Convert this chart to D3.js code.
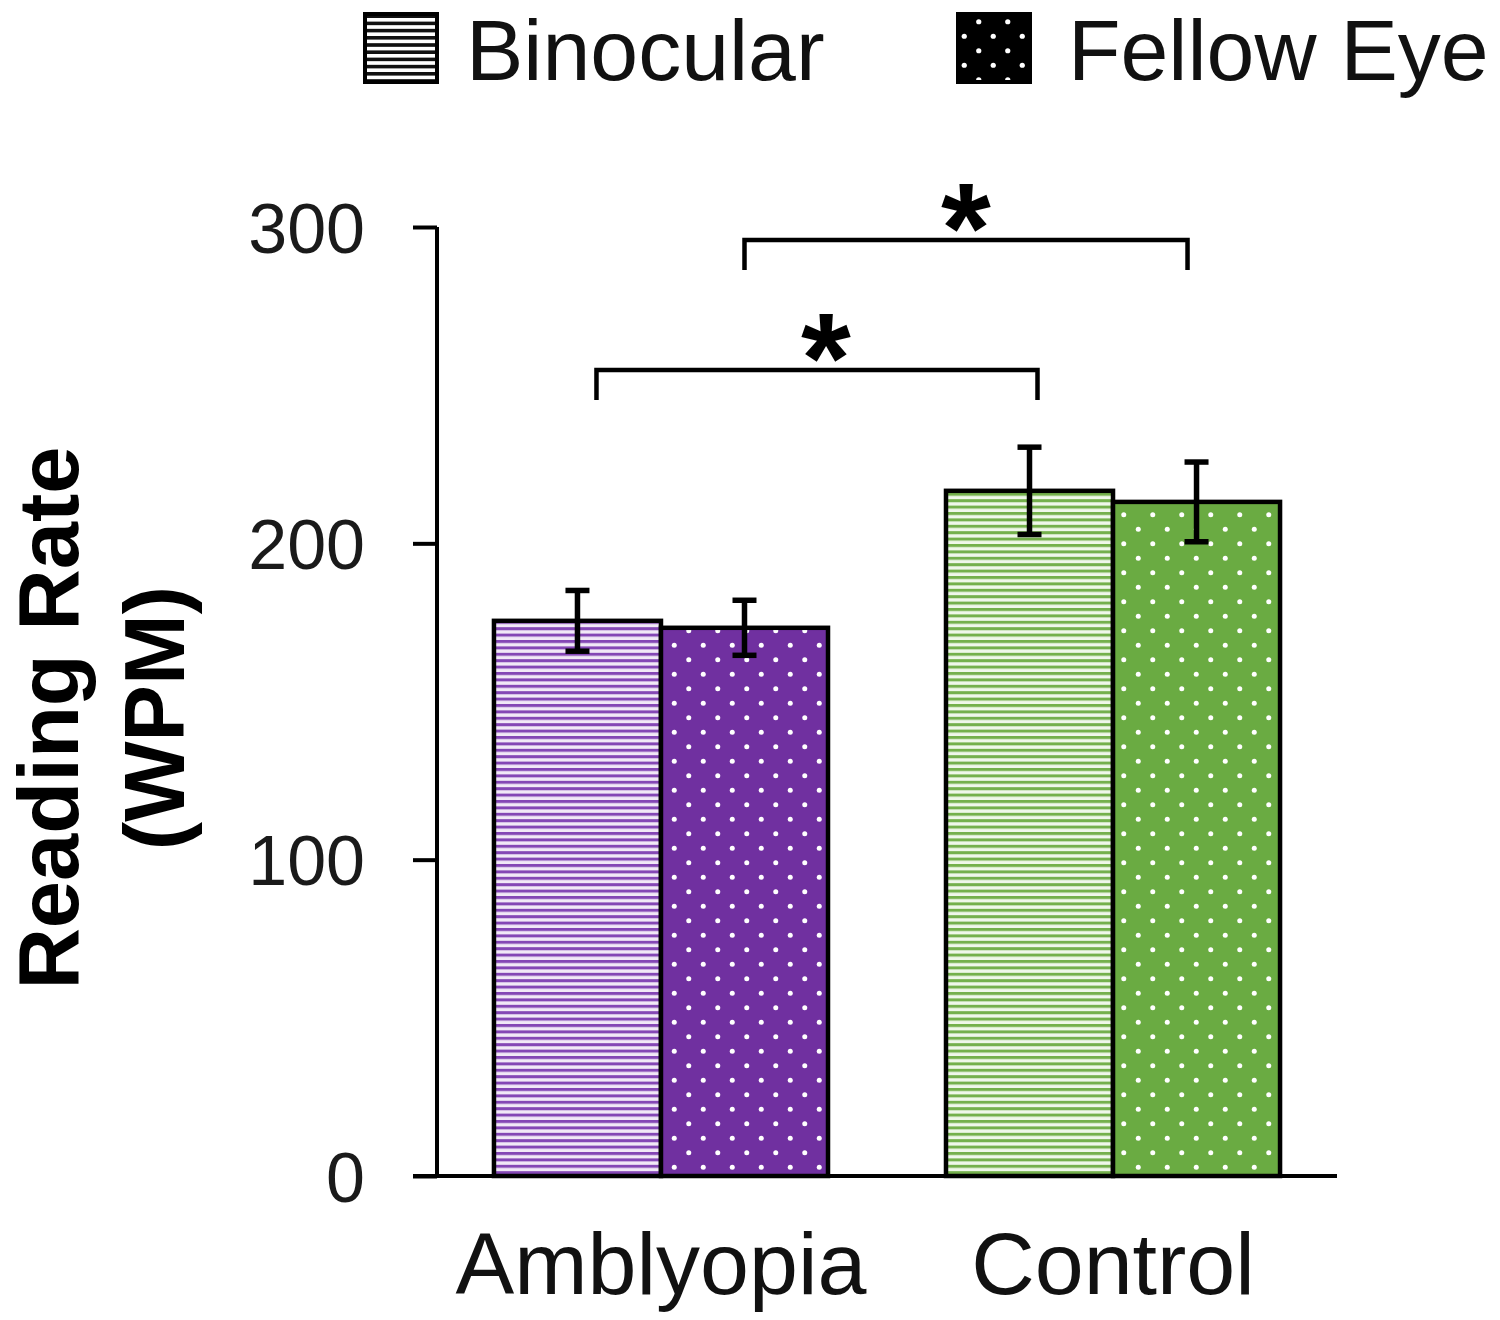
<!DOCTYPE html>
<html>
<head>
<meta charset="utf-8">
<script src="https://cdn.jsdelivr.net/npm/d3@7"></script>
<style>
  html, body { margin: 0; padding: 0; background: #fff; }
  svg { display: block; font-family: "Liberation Sans", Arial, sans-serif; }
</style>
</head>
<body>
<svg id="chart" width="1500" height="1320"></svg>
<script>
// ---- data ----
const groups = ["Amblyopia", "Control"];
const seriesNames = ["Binocular", "Fellow Eye"];
const binocularMeans = [175.5, 216.6];
const binocularErrors = [9.6, 13.8];
const fellowMeans = [173.3, 213.1];
const fellowErrors = [8.7, 12.6];
const yTicks = [0, 100, 200, 300];
const yTitleLines = ["Reading Rate", "(WPM)"];
// significance brackets: [group, series] -> [group, series], level in WPM
const bracketFrom = [[0, 0], [0, 1]];
const bracketTo = [[1, 0], [1, 1]];
const bracketLevels = [254.8, 295.9];
const bracketLabels = ["*", "*"];

const svg = d3.select("#chart");
const defs = svg.append("defs");

// patterns
function stripePattern(id, color, bg, period, lw) {
  const p = defs.append("pattern").attr("id", id)
    .attr("patternUnits", "userSpaceOnUse").attr("width", 20).attr("height", period);
  p.append("rect").attr("width", 20).attr("height", period).attr("fill", bg);
  p.append("rect").attr("y", 0).attr("width", 20).attr("height", lw).attr("fill", color);
}
function dotPattern(id, color, dotColor, size, r) {
  const p = defs.append("pattern").attr("id", id)
    .attr("patternUnits", "userSpaceOnUse").attr("width", size).attr("height", size);
  p.append("rect").attr("width", size).attr("height", size).attr("fill", color);
  p.append("circle").attr("cx", size * 0.25).attr("cy", size * 0.25).attr("r", r).attr("fill", dotColor);
  p.append("circle").attr("cx", size * 0.75).attr("cy", size * 0.75).attr("r", r).attr("fill", dotColor);
}
stripePattern("stripe0", "#8447b5", "#f1e9f7", 6.4, 3.0);
stripePattern("stripe1", "#74b04c", "#eff7ea", 6.4, 3.0);
dotPattern("dot0", "#7030a0", "#ffffff", 29, 2.5);
dotPattern("dot1", "#6aab42", "#ffffff", 29, 2.5);
stripePattern("stripeL", "#111", "#ffffff", 7.2, 3.6);
dotPattern("dotL", "#000", "#ffffff", 29, 2.6);

// scales
const x0 = d3.scaleBand().domain(groups).range([437, 1337]).paddingInner(0.261).paddingOuter(0.126);
const x1 = d3.scaleBand().domain(seriesNames).range([0, x0.bandwidth()]);
const y = d3.scaleLinear().domain([0, 300]).range([1176, 227]);

// y axis
const yAxis = d3.axisLeft(y).tickValues(yTicks).tickSize(24).tickPadding(48).tickSizeOuter(0);
const gy = svg.append("g").attr("transform", "translate(437,0)").call(yAxis);
gy.select(".domain").attr("stroke", "#000").attr("stroke-width", 4).attr("d", `M0,${y(300)}V${y(0)}`);
gy.selectAll(".tick line").attr("stroke", "#000").attr("stroke-width", 4).attr("x1", 0);
gy.selectAll(".tick text").attr("font-size", 70).attr("fill", "#1a1a1a")
  .attr("font-family", "Liberation Sans, Arial, sans-serif").attr("dy", "0.36em");

// bars
const data = [];
groups.forEach((g, gi) => {
  data.push({ g, gi, s: seriesNames[0], si: 0, v: binocularMeans[gi], e: binocularErrors[gi] });
  data.push({ g, gi, s: seriesNames[1], si: 1, v: fellowMeans[gi], e: fellowErrors[gi] });
});
const bars = svg.append("g");
bars.selectAll("rect").data(data).join("rect")
  .attr("x", d => x0(d.g) + x1(d.s))
  .attr("y", d => y(d.v))
  .attr("width", x1.bandwidth())
  .attr("height", d => y(0) - y(d.v))
  .attr("fill", d => d.si === 0 ? `url(#stripe${d.gi})` : `url(#dot${d.gi})`)
  .attr("stroke", "#000").attr("stroke-width", 4.5);

// x axis line
const xAxis = d3.axisBottom(x0).tickSize(0).tickPadding(56);
const gx = svg.append("g").attr("transform", `translate(0,${y(0)})`).call(xAxis);
gx.select(".domain").attr("stroke", "#000").attr("stroke-width", 4).attr("d", "M413,0H1337");
gx.selectAll(".tick text").attr("font-size", 88).attr("fill", "#111")
  .attr("font-family", "Liberation Sans, Arial, sans-serif");

// error bars
const cx = d => x0(d.g) + x1(d.s) + x1.bandwidth() / 2;
const eb = svg.append("g").attr("stroke", "#000").attr("stroke-width", 5.5);
data.forEach(d => {
  const c = cx(d);
  eb.append("line").attr("x1", c).attr("x2", c).attr("y1", y(d.v + d.e)).attr("y2", y(d.v - d.e));
  eb.append("line").attr("x1", c - 12).attr("x2", c + 12).attr("y1", y(d.v + d.e)).attr("y2", y(d.v + d.e));
  eb.append("line").attr("x1", c - 12).attr("x2", c + 12).attr("y1", y(d.v - d.e)).attr("y2", y(d.v - d.e));
});

// significance brackets
const bracketInset = [[19, 8], [0, -9]];
const bg = svg.append("g");
bracketLevels.forEach((lvl, i) => {
  const a = data.find(d => d.gi === bracketFrom[i][0] && d.si === bracketFrom[i][1]);
  const b = data.find(d => d.gi === bracketTo[i][0] && d.si === bracketTo[i][1]);
  const xa = cx(a) + bracketInset[i][0], xb = cx(b) + bracketInset[i][1];
  const yl = y(lvl);
  bg.append("path").attr("d", `M${xa},${yl + 30}V${yl}H${xb}V${yl + 30}`)
    .attr("fill", "none").attr("stroke", "#000").attr("stroke-width", 4.5);
  bg.append("text").attr("x", (xa + xb) / 2 + (i === 0 ? 9 : 0)).attr("y", yl + 32)
    .attr("text-anchor", "middle").attr("font-size", 128).attr("font-weight", "bold")
    .attr("fill", "#000").text(bracketLabels[i]);
});

// y title
const yt = svg.append("text").attr("transform", "translate(6,718) rotate(-90)")
  .attr("text-anchor", "middle").attr("font-weight", "bold").attr("font-size", 85).attr("fill", "#000");
yTitleLines.forEach((t, i) => {
  yt.append("tspan").attr("x", 0).attr("y", i === 0 ? 72 : 178).text(t);
});

// legend
const legendX = [363, 956];
const legendTextX = [466, 1068];
const lg = svg.append("g");
seriesNames.forEach((s, i) => {
  lg.append("rect").attr("x", legendX[i] + 2).attr("y", 14).attr("width", 72).attr("height", 68)
    .attr("fill", i === 0 ? "url(#stripeL)" : "url(#dotL)")
    .attr("stroke", "#000").attr("stroke-width", 4);
  lg.append("text").attr("x", legendTextX[i]).attr("y", 80)
    .attr("font-size", 86).attr("fill", "#111").text(s);
});
</script>
</body>
</html>
